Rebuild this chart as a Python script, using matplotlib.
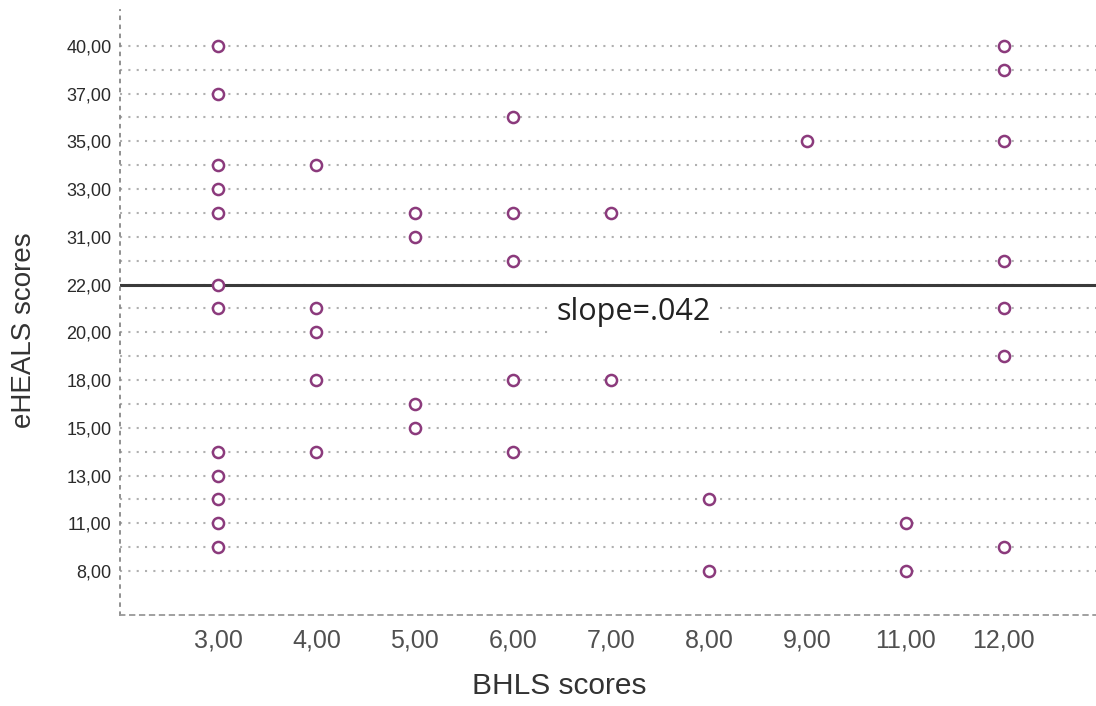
import matplotlib.pyplot as plt

# категории осей (строки без подписи - предположительные значения)
bhls_levels = ['3,00', '4,00', '5,00', '6,00', '7,00', '8,00', '9,00', '11,00', '12,00']
heals_levels = [40, 38, 37, 36, 35, 34, 33, 32, 31, 23, 22, 21, 20, 19, 18, 16, 15, 14, 13, 12, 11, 10, 8]
heals_shown = [40, 37, 35, 33, 31, 22, 20, 18, 15, 13, 11, 8]

# точки (BHLS, eHEALS)
bhls = ['3,00', '12,00', '12,00', '3,00', '6,00', '9,00', '12,00', '3,00', '4,00', '3,00',
        '3,00', '5,00', '6,00', '7,00', '5,00', '6,00', '12,00', '3,00', '3,00', '4,00',
        '12,00', '4,00', '12,00', '4,00', '6,00', '7,00', '5,00', '5,00', '3,00', '4,00',
        '6,00', '3,00', '3,00', '8,00', '3,00', '11,00', '3,00', '12,00', '8,00', '11,00']
heals = [40, 40, 38, 37, 36, 35, 35, 34, 34, 33,
         32, 32, 32, 32, 31, 23, 23, 22, 21, 21,
         21, 20, 19, 18, 18, 18, 16, 15, 14, 14,
         14, 13, 12, 12, 11, 11, 10, 10, 8, 8]
fit_level = 22
slope_text = 'slope=.042'

fig = plt.figure(figsize=(10.96, 7.06), dpi=100)
ax = fig.add_axes([120 / 1096, 91 / 706, 976 / 1096, 605 / 706])

xs = [bhls_levels.index(b) for b in bhls]
ys = [heals_levels.index(h) for h in heals]

# пунктирная сетка по строкам
for i in range(len(heals_levels)):
    ax.axhline(i, color='#b0b0b0', linewidth=1.5, linestyle=(0, (1.0, 3.0)), zorder=1)

ax.axhline(heals_levels.index(fit_level), color='#3a3a3a', linewidth=2.2, zorder=2)

ax.scatter(xs, ys, s=64, facecolors='white', edgecolors='#8b3a7c', linewidths=1.8, zorder=3)

ax.text(4.23, heals_levels.index(fit_level) + 1.48, slope_text, fontsize=22, family='Open Sans',
        color='#222222', ha='center', va='baseline', zorder=4,
        bbox=dict(facecolor='white', edgecolor='none', pad=5))

ax.set_xlim(-1, 8.94)
ax.set_ylim(len(heals_levels) - 1 + 1.84, -1.5)

ax.set_xticks(range(len(bhls_levels)))
ax.set_xticklabels(bhls_levels, fontsize=18, family='Liberation Sans', color='#505050')
ax.set_yticks([heals_levels.index(h) for h in heals_shown])
ax.set_yticklabels(['%d,00' % h for h in heals_shown], fontsize=13, family='Liberation Sans', color='#2a2a2a')
ax.tick_params(axis='x', length=0, pad=10)
ax.tick_params(axis='y', length=0, pad=6)

ax.set_xlabel('BHLS scores', fontsize=21.5, family='Liberation Sans', color='#333333')
ax.set_ylabel('eHEALS scores', fontsize=20, family='Liberation Sans', color='#333333')
ax.xaxis.set_label_coords(0.45, -0.095)
ax.yaxis.set_label_coords(-0.085, 0.47)

ax.spines['top'].set_visible(False)
ax.spines['right'].set_visible(False)
ax.spines['left'].set_linestyle((0, (1.5, 3.5)))
ax.spines['left'].set_color('#888888')
ax.spines['left'].set_linewidth(1.3)
ax.spines['bottom'].set_linestyle((0, (2.5, 3.0)))
ax.spines['bottom'].set_color('#999999')
ax.spines['bottom'].set_linewidth(1.3)

fig.savefig('out.png', dpi=100)
